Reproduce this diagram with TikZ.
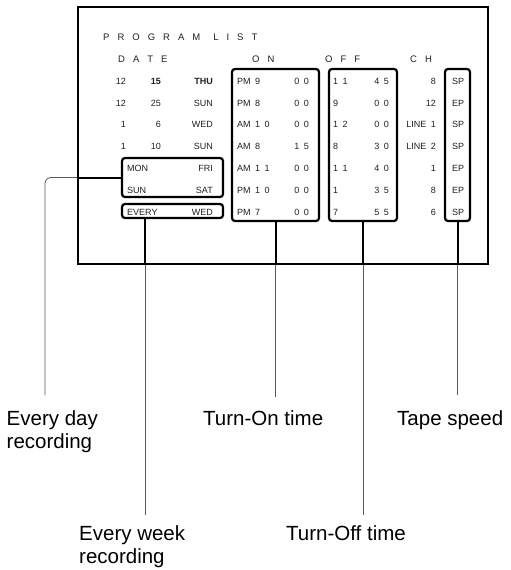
\documentclass[tikz,border=0pt]{standalone}
\usepackage{fontspec}
\setmainfont{Liberation Sans}
\usetikzlibrary{positioning,calc}
\newcommand\scrfont{\fontsize{9}{10}\selectfont\spaceskip=4.5pt\relax}
\newcommand\headfont{\fontsize{9.5}{10}\selectfont\spaceskip=8pt\relax}
\newcommand\lblfont{\fontsize{20.5}{23}\selectfont}
\definecolor{Ink}{gray}{0.12}
\definecolor{Lead}{gray}{0.35}

\begin{document}
\begin{tikzpicture}[x=1pt,y=-1pt,
  cell/.style={font=\scrfont,text=Ink,inner sep=0pt,anchor=base east},
  head/.style={font=\headfont,text=Ink,inner sep=0pt,anchor=base west},
  frame/.style={draw,line width=2.2pt,rounded corners=3pt,inner sep=0pt},
  lead/.style={line width=2pt},
  tail/.style={line width=0.8pt,draw=Lead},
  lbl/.style={font=\lblfont,align=left,inner sep=0pt,anchor=north west}
]
\useasboundingbox (0,0) rectangle (511,570);
\node[draw,line width=1.1pt,inner sep=0pt,minimum width=410pt,minimum height=257pt] (scr) at (283,135.5) {};
\node[head] (title) at (103,40.5) {P R O G R A M\hspace{13pt}L I S T};
\node[head] (hdate) at (118,62.5) {D A T E};
\node[head] (hon) at (252,62.5) {O N};
\node[head] (hoff) at (325,62.5) {O F F};
\node[head] (hch) at (410,62.5) {C H};
\node[cell] (mo1) at (126,84.3) {12};
\node[cell,font=\scrfont\bfseries] (dy1) at (161,84.3) {15};
\node[cell,font=\scrfont\bfseries] (wk1) at (213,84.3) {THU};
\foreach \i/\mon/\day/\wkd in {2/12/25/SUN,3/1/6/WED,4/1/10/SUN} {
  \node[cell] (mo\i) at (126,{62.5+21.8*\i}) {\mon};
  \node[cell] (dy\i) at (161,{62.5+21.8*\i}) {\day};
  \node[cell] (wk\i) at (213,{62.5+21.8*\i}) {\wkd};
}
\node[frame,minimum width=101pt,minimum height=39pt] (dly) at (172.5,177.5) {};
\node[frame,minimum width=101pt,minimum height=14pt] (wkly) at (172.5,211) {};
\node[cell,anchor=base west] (mon) at (127,171.3) {MON};
\node[cell] (fri) at (213,171.3) {FRI};
\node[cell,anchor=base west] (sun) at (127,193.1) {SUN};
\node[cell] (sat) at (213,193.1) {SAT};
\node[cell,anchor=base west] (every) at (127,215) {EVERY};
\node[cell] (wed) at (213,215) {WED};
\node[frame,minimum width=87pt,minimum height=152pt] (onbox) at (275.5,145) {};
\node[frame,minimum width=68pt,minimum height=152pt] (offbox) at (363,145) {};
\node[frame,minimum width=25pt,minimum height=152pt] (tpbox) at (457.5,145) {};
\foreach \i/\apm/\onh/\onm/\offh/\offm/\chn/\spd in {
  1/PM/9/0 0/1 1/4 5/8/SP,
  2/PM/8/0 0/9/0 0/12/EP,
  3/AM/1 0/0 0/1 2/0 0/LINE 1/SP,
  4/AM/8/1 5/8/3 0/LINE 2/SP,
  5/AM/1 1/0 0/1 1/4 0/1/EP,
  6/PM/1 0/0 0/1/3 5/8/EP,
  7/PM/7/0 0/7/5 5/6/SP} {
  \node[cell,anchor=base west] (ap\i) at (237,{62.5+21.8*\i}) {\apm};
  \node[cell,anchor=base west] (hh\i) at (255,{62.5+21.8*\i}) {\onh};
  \node[cell] (mm\i) at (309,{62.5+21.8*\i}) {\onm};
  \node[cell,anchor=base west] (fh\i) at (333,{62.5+21.8*\i}) {\offh};
  \node[cell] (fm\i) at (389,{62.5+21.8*\i}) {\offm};
  \node[cell] (ch\i) at (436,{62.5+21.8*\i}) {\chn};
  \node[cell,anchor=base] (tp\i) at (458,{62.5+21.8*\i}) {\spd};
}
\node[lbl] (lblday) at (6.5,410) {Every day\\recording};
\node[lbl] (lblon) at (203,410) {Turn-On time};
\node[lbl] (lbltp) at (397,410) {Tape speed};
\node[lbl] (lblwk) at (79,525) {Every week\\recording};
\node[lbl] (lbloff) at (286,525) {Turn-Off time};
\coordinate (dayturn) at (45,177.5);
\coordinate (wkdrop) at ([xshift=-27.5pt]wkly.south);
\draw[lead] (dly.west) -- (dly.west -| scr.west);
\draw[tail,rounded corners=6pt,shorten >=15pt] (dly.west -| scr.west) -- (dayturn) -- (dayturn |- lblday.north);
\foreach \src/\dst/\gap in {wkdrop/lblwk/10pt,onbox.south/lblon/13pt,offbox.south/lbloff/10pt,tpbox.south/lbltp/15pt} {
  \draw[lead] (\src) -- (\src |- scr.south);
  \draw[tail,shorten >=\gap] (\src |- scr.south) -- (\src |- \dst.north);
}
\end{tikzpicture}
\end{document}
